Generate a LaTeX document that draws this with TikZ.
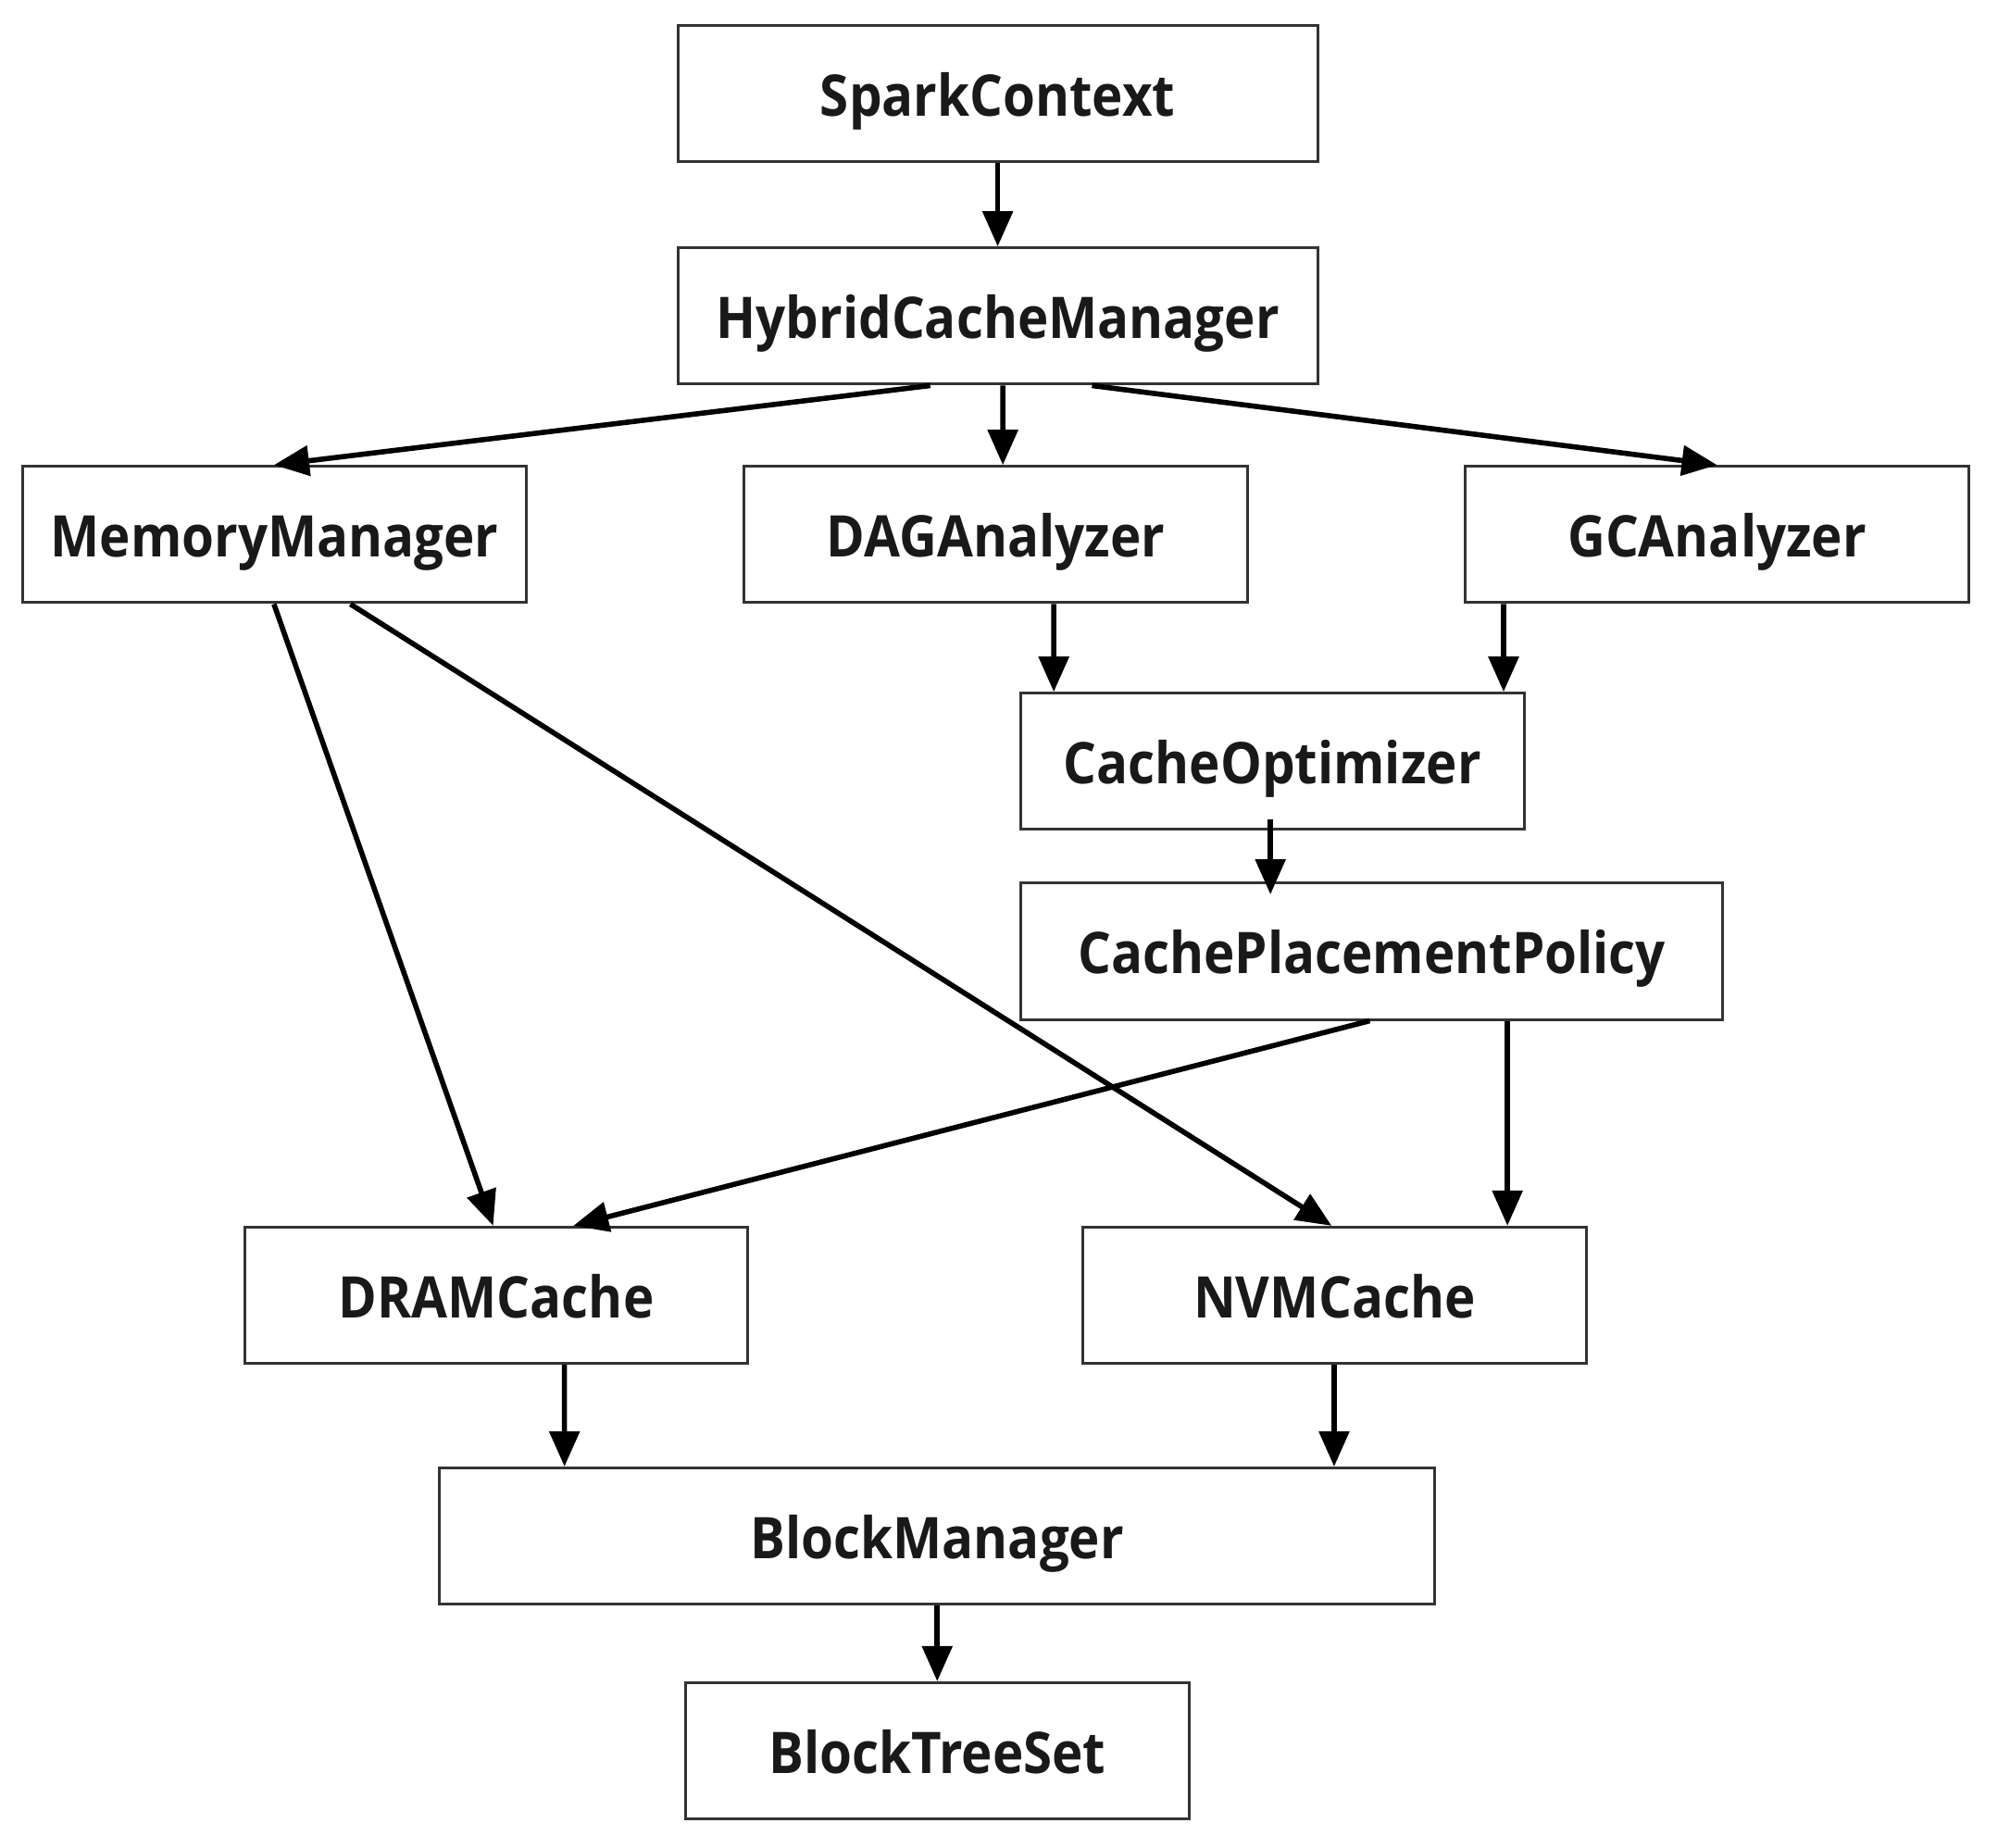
\documentclass[tikz,border=0pt]{standalone}
\usepackage{fontspec}
\setmainfont{Open Sans}[FakeStretch=0.91]
\usetikzlibrary{arrows.meta,calc}
\begin{document}
\begin{tikzpicture}[x=0.688pt,y=-0.688pt,
  box/.style={draw=black!80,line width=1.5pt,fill=white,inner sep=0pt,
    minimum height=107*0.688pt,minimum width=395*0.688pt,
    text height=24.2pt,text depth=0pt,
    font=\fontsize{31}{36}\selectfont\bfseries,text=black!90},
  arr/.style={line width=2.8pt,-{Triangle[length=19pt,width=16pt]}}]
\useasboundingbox[fill=white] (0,0) rectangle (1568,1450);
\node[box,minimum width=502*0.688pt] (sc) at (783,73.5) {SparkContext};
\node[box,minimum width=502*0.688pt] (hcm) at (783,248) {HybridCacheManager};
\node[box] (mm) at (215.5,419.5) {MemoryManager};
\node[box] (dag) at (781.5,419.5) {DAGAnalyzer};
\node[box] (gc) at (1347.5,419.5) {GCAnalyzer};
\node[box] (co) at (998.5,597.5) {CacheOptimizer};
\node[box,minimum width=551*0.688pt] (cpp) at (1076.5,746.5) {CachePlacementPolicy};
\node[box] (dram) at (389.5,1016.5) {DRAMCache};
\node[box] (nvm) at (1047.5,1016.5) {NVMCache};
\node[box,minimum width=781*0.688pt] (bm) at (735.5,1205.5) {BlockManager};
\node[box] (bts) at (735.5,1374) {BlockTreeSet};

\draw[arr] (sc.south) -- (hcm.north);
\draw[arr] ($(hcm.south)+(-53,0)$) -- ($(mm.north)+(-0.5,0)$);
\draw[arr] ($(hcm.south)+(4,0)$) -- ($(dag.north)+(5.5,0)$);
\draw[arr] ($(hcm.south)+(74,0)$) -- (gc.north);
\draw[arr] ($(dag.south)+(45.5,0)$) -- ($(co.north)+(-171.5,0)$);
\draw[arr] ($(gc.south)+(-167.5,0)$) -- ($(co.north)+(181.5,0)$);
\draw[arr] ($(co.south)+(-1.5,-9)$) -- ($(cpp.north)+(-79.5,10)$);
\draw[arr] ($(cpp.south)+(-1.5,0)$) -- ($(dram.north)+(60.5,0)$);
\draw[arr] ($(cpp.south)+(106.5,0)$) -- ($(nvm.north)+(135.5,0)$);
\draw[arr] ($(mm.south)+(-0.5,0)$) -- ($(dram.north)+(-2.5,0)$);
\draw[arr] ($(mm.south)+(59.5,0)$) -- ($(nvm.north)+(-2.5,0)$);
\draw[arr] ($(dram.south)+(53.5,0)$) -- ($(bm.north)+(-292.5,0)$);
\draw[arr] ($(nvm.south)+(-0.5,0)$) -- ($(bm.north)+(311.5,0)$);
\draw[arr] (bm.south) -- (bts.north);
\end{tikzpicture}
\end{document}
